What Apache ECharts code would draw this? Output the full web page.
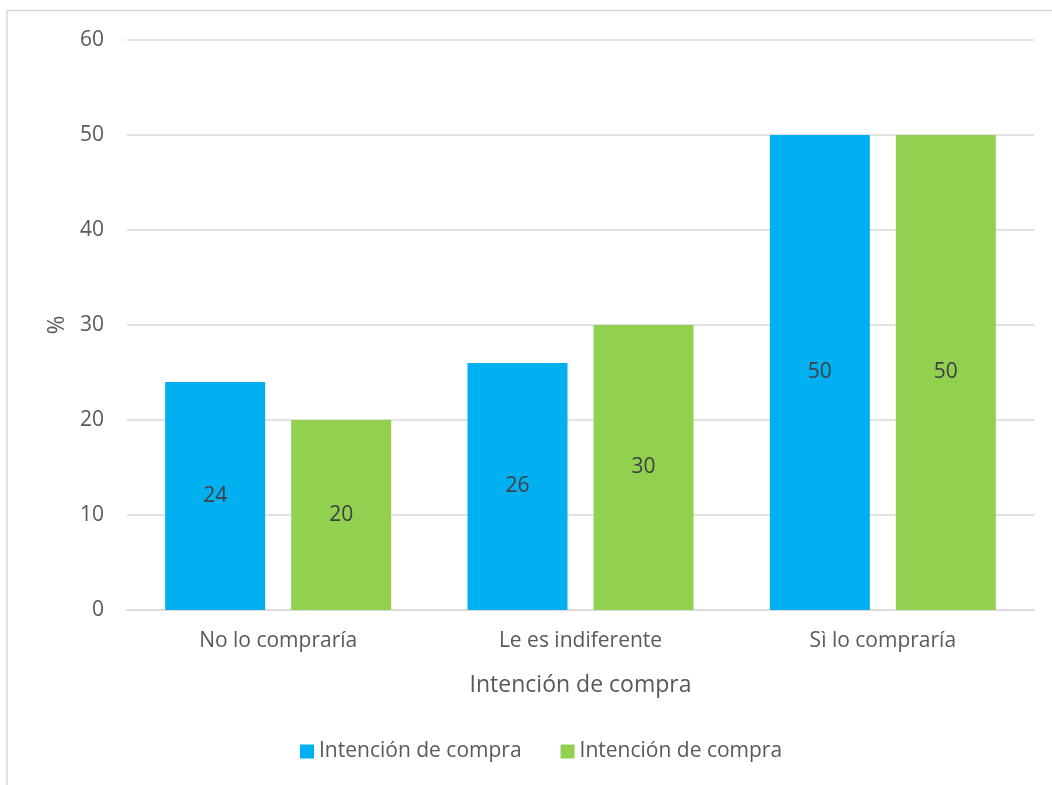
<!DOCTYPE html>
<html><head><meta charset="utf-8">
<script src="https://cdn.jsdelivr.net/npm/echarts@6/dist/echarts.min.js"></script>
<style>html,body{margin:0;padding:0;background:#fff}#c{width:1052px;height:785px}</style>
</head><body><div id="c"></div>
<script>
const categories = ['No lo compraría', 'Le es indiferente', 'Sì lo compraría'];
const seriesNames = ['Intención de compra', 'Intención de compra'];
const seriesA = [24, 26, 50];
const seriesB = [20, 30, 50];
const yTicks = [0, 10, 20, 30, 40, 50, 60];

const chart = echarts.init(document.getElementById('c'), null, {renderer: 'canvas'});
const font = '"Open Sans", "Noto Sans", sans-serif';
const lbl = {show: true, position: 'inside', color: '#404040', fontSize: 21, fontFamily: font};
chart.setOption({
  animation: false,
  textStyle: {fontFamily: font},
  graphic: [{type: 'rect', shape: {x: 7, y: 10.5, width: 1100, height: 800}, style: {fill: 'none', stroke: '#d9d9d9', lineWidth: 1.5}, silent: true}],
  grid: {left: 127, right: 18, top: 40, bottom: 175},
  legend: {
    bottom: 18, left: 295, itemWidth: 14, itemHeight: 14, itemGap: 39,
    icon: 'rect',
    textStyle: {color: '#595959', fontSize: 21, fontFamily: font},
    data: [{name: 'A'}, {name: 'B'}],
    formatter: n => n === 'A' ? seriesNames[0] : seriesNames[1]
  },
  xAxis: {
    type: 'category', data: categories,
    name: 'Intención de compra', nameLocation: 'middle', nameGap: 64,
    nameTextStyle: {color: '#595959', fontSize: 23, fontFamily: font},
    axisLine: {lineStyle: {color: '#d9d9d9', width: 1.5}},
    axisTick: {show: false},
    axisLabel: {color: '#595959', fontSize: 21, fontFamily: font, margin: 21}
  },
  yAxis: {
    type: 'value', min: yTicks[0], max: yTicks[yTicks.length - 1], interval: 10,
    name: '%', nameLocation: 'middle', nameGap: 56, nameRotate: 90,
    nameTextStyle: {color: '#595959', fontSize: 23, fontFamily: font},
    axisLine: {show: false}, axisTick: {show: false},
    splitLine: {lineStyle: {color: '#d9d9d9', width: 1.5}},
    axisLabel: {color: '#595959', fontSize: 21, fontFamily: font, margin: 23}
  },
  series: [
    {name: 'A', type: 'bar', data: seriesA, barWidth: 100, barGap: '26%', itemStyle: {color: '#00b0f0'}, label: lbl},
    {name: 'B', type: 'bar', data: seriesB, barWidth: 100, itemStyle: {color: '#92d050'}, label: lbl}
  ]
});
</script></body></html>
